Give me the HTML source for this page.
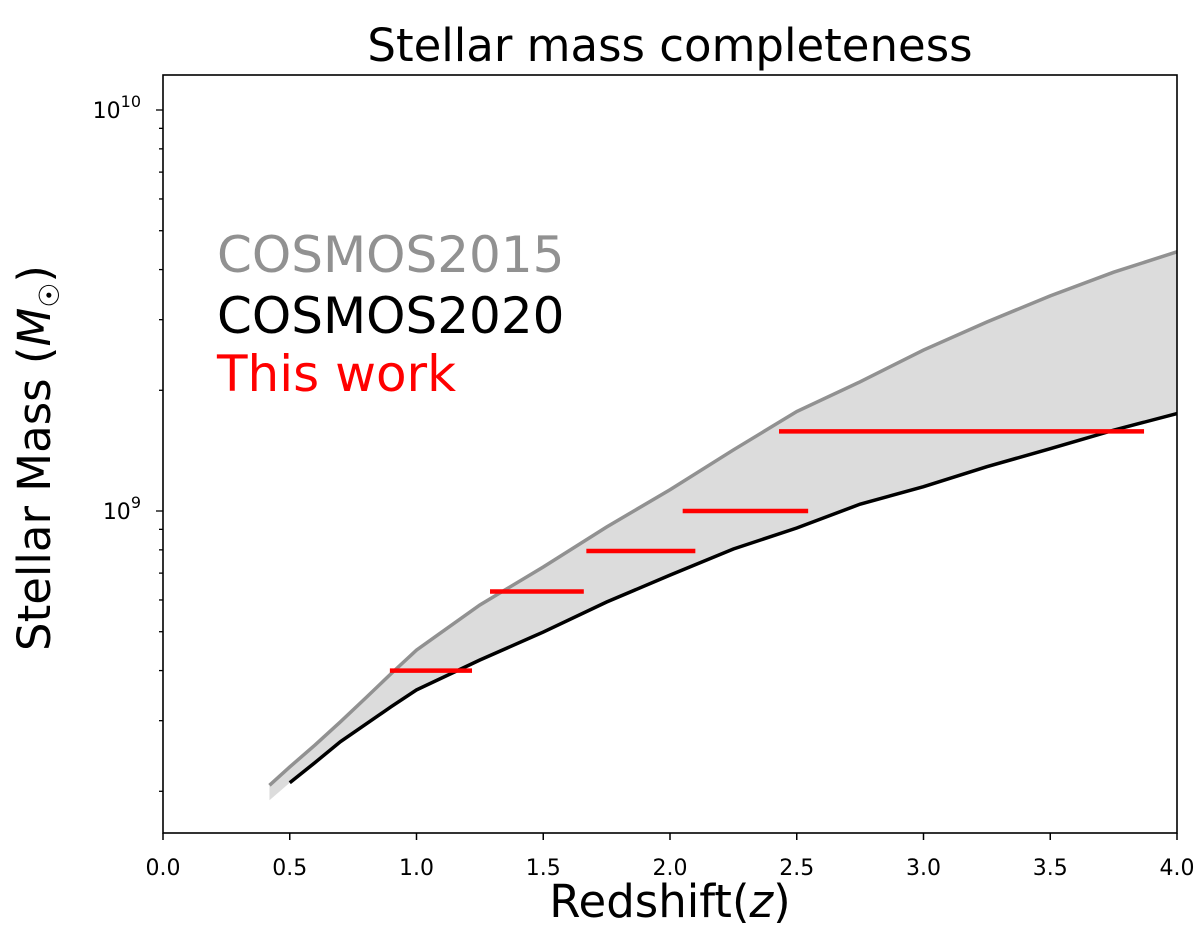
<!DOCTYPE html>
<html><head><meta charset="utf-8"><style>
body{margin:0;background:#fff;}
svg text{font-family:"DejaVu Sans","Liberation Sans",sans-serif;}
</style></head><body>
<svg id="chart" width="1200" height="942" xmlns="http://www.w3.org/2000/svg">
<text x="670" y="61" font-size="45" text-anchor="middle">Stellar mass completeness</text>
<g id="plot"></g>
<text x="217" y="272" font-size="50" fill="#919191">COSMOS2015</text>
<text x="217" y="333" font-size="50" fill="#000">COSMOS2020</text>
<text x="217" y="391" font-size="50" fill="#ff0000">This work</text>
<text x="670" y="917" font-size="45" text-anchor="middle">Redshift(<tspan font-style="italic">z</tspan>)</text>
<text transform="translate(50,458) rotate(-90)" font-size="45" text-anchor="middle">Stellar Mass (<tspan font-style="italic">M</tspan><tspan font-size="28" dy="9">☉</tspan><tspan dy="-9">)</tspan></text>
</svg>
<script>
const z15=[0.42,0.5,0.6,0.7,0.8,0.9,1.0,1.25,1.5,1.75,2.0,2.25,2.5,2.75,3.0,3.25,3.5,3.75,4.0];
const m15=[2.07,2.30,2.61,2.98,3.42,3.93,4.50,5.83,7.25,9.12,11.3,14.2,17.7,21.0,25.2,29.6,34.4,39.4,44.3];
const z20=[0.5,0.6,0.7,0.8,0.9,1.0,1.25,1.5,1.75,2.0,2.25,2.5,2.75,3.0,3.25,3.5,3.75,4.0];
const m20=[2.10,2.36,2.66,2.94,3.25,3.58,4.25,4.99,5.93,6.92,8.04,9.07,10.4,11.5,12.9,14.3,15.9,17.5];
const redZlo=[0.895,1.29,1.67,2.05,2.43];
const redZhi=[1.219,1.66,2.10,2.545,3.87];
const redM=[4.0,6.3,7.95,10.0,15.8];
const fillLowStart=1.9;
const xTicks=[0,0.5,1,1.5,2,2.5,3,3.5,4];
const NS="http://www.w3.org/2000/svg";
const L=163,R=1177,T=75,B=833;
const X=z=>L+(z-0)/4*(R-L);
const Y=m=>511-(Math.log10(m*1e8)-9)*401;
const g=document.getElementById('plot');
function mk(t,a){const e=document.createElementNS(NS,t);for(const k in a)e.setAttribute(k,a[k]);g.appendChild(e);return e;}
let d='M'+z15.map((z,i)=>X(z)+','+Y(m15[i])).join(' L');
for(let j=z20.length-1;j>=0;j--)d+=' L'+X(z20[j])+','+Y(m20[j]);
d+=' L'+X(z15[0])+','+Y(fillLowStart)+'Z';
const f=mk('path',{d:d,fill:'#dcdcdc'});


const l15=mk('polyline',{points:z15.map((z,i)=>X(z)+','+Y(m15[i])).join(' '),fill:'none',stroke:'#919191','stroke-width':3.5});


const l20=mk('polyline',{points:z20.map((z,i)=>X(z)+','+Y(m20[i])).join(' '),fill:'none',stroke:'#000','stroke-width':3.5});


redM.forEach((m,i)=>{const e=mk('line',{x1:X(redZlo[i]),x2:X(redZhi[i]),y1:Y(m),y2:Y(m),stroke:'#ff0000','stroke-width':4.5});

});
const fr=mk('rect',{x:L,y:T,width:R-L,height:B-T,fill:'none',stroke:'#000','stroke-width':1.6});


xTicks.forEach(t=>{const e=mk('line',{x1:X(t),x2:X(t),y1:B,y2:B+7,stroke:'#000','stroke-width':1.5});


const tx=mk('text',{x:X(t),y:B+42,'font-size':22,'text-anchor':'middle'});tx.textContent=t.toFixed(1);

});
for(let e=8;e<=10;e++)for(let k=1;k<10;k++){const v=k*Math.pow(10,e-8);const y=Y(v);if(y<T||y>B)continue;
const major=k===1;const tk=mk('line',{x1:L-(major?7:4),x2:L,y1:y,y2:y,stroke:'#000','stroke-width':1.3});


if(major){const tx=mk('text',{x:L-22,y:y+8,'font-size':22,'text-anchor':'end'});tx.innerHTML='10<tspan font-size="16" dy="-11">'+e+'</tspan>';

}}
</script>
</body></html>
